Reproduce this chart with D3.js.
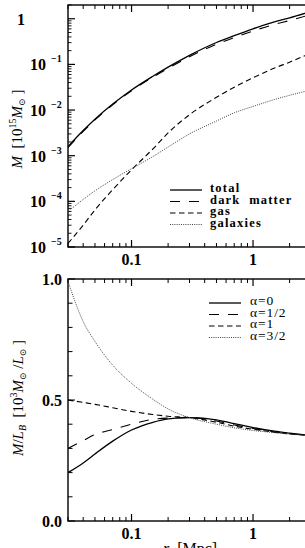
<!DOCTYPE html>
<html>
<head>
<style>
body { margin: 0; background: #fff; }
svg { display: block; }
.tick-label { font-family: 'Liberation Serif', 'DejaVu Serif', serif; font-weight: bold; font-size: 16px; fill: #000; }
.axis-title { font-family: 'Liberation Serif', 'DejaVu Serif', serif; font-size: 15px; fill: #000; }
.legend-text { font-family: 'Liberation Serif', 'DejaVu Serif', serif; font-weight: bold; font-size: 12.5px; letter-spacing: 1.2px; white-space: pre; fill: #000; }
.legend-alpha { font-family: 'Liberation Serif', 'DejaVu Serif', serif; font-size: 13.5px; letter-spacing: 0.9px; fill: #000; }
</style>
</head>
<body>
<svg></svg>
<script src="https://d3js.org/d3.v7.min.js"></script>
<script>

// radius grid shared by both panels [Mpc]
const radius = [0.03, 0.04, 0.05, 0.07, 0.1, 0.15, 0.2, 0.3, 0.5, 0.7, 1, 1.5, 2, 3];

// top panel: enclosed mass [10^15 Msun]
const massTotal = [1.58e-3, 3.55e-3, 6.3e-3, 0.0135, 0.0275, 0.055, 0.087, 0.158, 0.302, 0.427, 0.603, 0.851, 1.047, 1.445];
const massDark = [1.51e-3, 3.41e-3, 6.07e-3, 0.013, 0.0265, 0.0526, 0.082, 0.147, 0.277, 0.386, 0.54, 0.751, 0.914, 1.24];
const massGas = [1.2e-5, 3.0e-5, 6.5e-5, 1.8e-4, 4.9e-4, 1.41e-3, 3.16e-3, 7.9e-3, 0.019, 0.0316, 0.051, 0.083, 0.112, 0.178];
const massGalaxies = [6.0e-5, 1.1e-4, 1.7e-4, 3.0e-4, 5.2e-4, 9.6e-4, 1.55e-3, 3.0e-3, 5.75e-3, 8.7e-3, 0.012, 0.017, 0.021, 0.0275];
const massNames = ['total', 'dark  matter', 'gas', 'galaxies'];

// bottom panel: M/L_B [10^3 Msun/Lsun]
const mlAlpha0 = [0.20, 0.24, 0.277, 0.33, 0.376, 0.408, 0.422, 0.427, 0.418, 0.402, 0.386, 0.371, 0.363, 0.353];
const mlAlphaHalf = [0.30, 0.332, 0.357, 0.378, 0.40, 0.42, 0.425, 0.427, 0.413, 0.397, 0.382, 0.368, 0.361, 0.353];
const mlAlpha1 = [0.50, 0.49, 0.482, 0.468, 0.453, 0.44, 0.433, 0.427, 0.408, 0.392, 0.379, 0.367, 0.36, 0.353];
const mlAlpha3Half = [0.99, 0.824, 0.742, 0.644, 0.569, 0.503, 0.463, 0.427, 0.40, 0.385, 0.374, 0.365, 0.359, 0.352];
const alphaNames = ['\u03b1=0', '\u03b1=1/2', '\u03b1=1', '\u03b1=3/2'];

const xTickLabels = [0.1, 1];
const massTickPowers = [0, -1, -2, -3, -4, -5];
const mlTickLabels = ['0.0', '0.5', '1.0'];

// line styles: solid, long dash, short dash, dotted
const styles = [
    {dash: null, width: 1.3, color: '#000'},
    {dash: '10,9', width: 1.1, color: '#000'},
    {dash: '5.5,3.5', width: 1.1, color: '#000'},
    {dash: '1,1.2', width: 1, color: '#444'},
];

const width = 305;
const height = 548;

const svg = d3.select('svg')
    .attr('width', width)
    .attr('height', height);

const x = d3.scaleLog()
    .domain([0.03, 3])
    .range([68, 311]);

const yMass = d3.scaleLog()
    .domain([1e-5, 2])
    .range([247, 5]);

const yML = d3.scaleLinear()
    .domain([0, 1])
    .range([521, 279]);

const xMinor = x.ticks().filter(d => xTickLabels.indexOf(d) < 0);

function drawFrame(g, y, top, bottom) {
    g.append('rect')
        .attr('x', x.range()[0])
        .attr('y', top)
        .attr('width', x.range()[1] - x.range()[0])
        .attr('height', bottom - top)
        .attr('fill', 'none')
        .attr('stroke', '#000')
        .attr('stroke-width', 1.4);

    // x ticks, pointing inward on bottom and top
    [[bottom, -1], [top, 1]].forEach(([yy, dir]) => {
        g.selectAll(null).data(xMinor).enter().append('line')
            .attr('x1', d => x(d)).attr('x2', d => x(d))
            .attr('y1', yy).attr('y2', yy + dir * 4)
            .attr('stroke', '#000').attr('stroke-width', 1);
        g.selectAll(null).data(xTickLabels).enter().append('line')
            .attr('x1', d => x(d)).attr('x2', d => x(d))
            .attr('y1', yy).attr('y2', yy + dir * 7)
            .attr('stroke', '#000').attr('stroke-width', 1.2);
    });

    g.selectAll(null).data(xTickLabels).enter().append('text')
        .attr('class', 'tick-label')
        .attr('x', d => x(d))
        .attr('y', bottom + 18)
        .attr('text-anchor', 'middle')
        .text(d => d);
}

function addLines(g, series, y, clipId) {
    const line = d3.line()
        .x((d, i) => x(radius[i]))
        .y(d => y(d))
        .curve(d3.curveMonotoneX);

    series.forEach((s, i) => {
        g.append('path')
            .datum(s)
            .attr('clip-path', `url(#${clipId})`)
            .attr('fill', 'none')
            .attr('stroke', styles[i].color)
            .attr('stroke-width', styles[i].width)
            .attr('stroke-dasharray', styles[i].dash)
            .attr('d', line);
    });
}

function addLegend(g, names, x0, x1, tx, baselines, cls) {
    names.forEach((name, i) => {
        g.append('line')
            .attr('x1', x0).attr('x2', x1)
            .attr('y1', baselines[i] - 2).attr('y2', baselines[i] - 2)
            .attr('fill', 'none')
            .attr('stroke', styles[i].color)
            .attr('stroke-width', styles[i].width)
            .attr('stroke-dasharray', styles[i].dash);
        g.append('text')
            .attr('class', cls)
            .attr('x', tx)
            .attr('y', baselines[i])
            .text(name);
    });
}

const defs = svg.append('defs');
defs.append('clipPath').attr('id', 'clip-mass')
    .append('rect').attr('x', 68).attr('y', 5).attr('width', 243).attr('height', 242);
defs.append('clipPath').attr('id', 'clip-ml')
    .append('rect').attr('x', 68).attr('y', 279).attr('width', 243).attr('height', 242);

// ---- top panel ----
const massPanel = svg.append('g');
drawFrame(massPanel, yMass, 5, 247);

// log y ticks
const massMinor = [];
massTickPowers.forEach(p => {
    for (let k = 2; k <= 9; k++) {
        const v = k * Math.pow(10, p);
        if (v <= 2) massMinor.push(v);
    }
});
massPanel.selectAll(null).data(massMinor).enter().append('line')
    .attr('x1', 68).attr('x2', 71.5)
    .attr('y1', d => yMass(d)).attr('y2', d => yMass(d))
    .attr('stroke', '#000').attr('stroke-width', 0.9);
massPanel.selectAll(null).data(massTickPowers).enter().append('line')
    .attr('x1', 68).attr('x2', 75)
    .attr('y1', d => yMass(Math.pow(10, d))).attr('y2', d => yMass(Math.pow(10, d)))
    .attr('stroke', '#000').attr('stroke-width', 1.2);

massTickPowers.forEach(p => {
    const yy = yMass(Math.pow(10, p)) + 6;
    if (p === 0) {
        massPanel.append('text').attr('class', 'tick-label')
            .attr('x', 25).attr('y', yy).attr('text-anchor', 'end').text('1');
    } else {
        const t = massPanel.append('text').attr('class', 'tick-label')
            .attr('x', 30).attr('y', yy);
        t.append('tspan').text('10');
        t.append('tspan').attr('dx', 5).attr('dy', -8)
            .style('font-size', '10px').text('\u2212' + (-p));
    }
});

addLines(massPanel, [massTotal, massDark, massGas, massGalaxies], yMass, 'clip-mass');
addLegend(massPanel, massNames, 170, 202, 210, [192, 203.5, 215, 226.5], 'legend-text');

const massTitle = massPanel.append('text')
    .attr('class', 'axis-title')
    .attr('transform', 'translate(22,129) rotate(-90)')
    .attr('text-anchor', 'middle')
    .style('white-space', 'pre');
massTitle.append('tspan').style('font-style', 'italic').text('M');
massTitle.append('tspan').text('  [10');
massTitle.append('tspan').attr('dy', -6).style('font-size', '10px').text('15');
massTitle.append('tspan').attr('dy', 6).style('font-style', 'italic').text('M');
massTitle.append('tspan').attr('dy', 3).style('font-size', '9px').text('\u2299');
massTitle.append('tspan').attr('dy', -3).text(' ]');

// ---- bottom panel ----
const mlPanel = svg.append('g');
drawFrame(mlPanel, yML, 279, 521);

const mlTicks = d3.range(0, 11).map(d => d / 10);
mlPanel.selectAll(null).data(mlTicks).enter().append('line')
    .attr('x1', 68).attr('x2', d => (d * 10) % 5 === 0 ? 75 : 72.5)
    .attr('y1', d => yML(d)).attr('y2', d => yML(d))
    .attr('stroke', '#000').attr('stroke-width', 1);

mlPanel.selectAll(null).data(mlTickLabels).enter().append('text')
    .attr('class', 'tick-label')
    .attr('x', 62)
    .attr('y', d => yML(+d) + 6)
    .attr('text-anchor', 'end')
    .text(d => d);

addLines(mlPanel, [mlAlpha0, mlAlphaHalf, mlAlpha1, mlAlpha3Half], yML, 'clip-ml');
addLegend(mlPanel, alphaNames, 209, 241, 250, [305, 316.5, 328, 339.5], 'legend-alpha');

const mlTitle = mlPanel.append('text')
    .attr('class', 'axis-title')
    .attr('transform', 'translate(23,398) rotate(-90)')
    .attr('text-anchor', 'middle')
    .style('white-space', 'pre');
mlTitle.append('tspan').style('font-style', 'italic').text('M');
mlTitle.append('tspan').text('/');
mlTitle.append('tspan').style('font-style', 'italic').text('L');
mlTitle.append('tspan').attr('dy', 3).style('font-size', '10px').style('font-style', 'italic').text('B');
mlTitle.append('tspan').attr('dy', -3).text('  [10');
mlTitle.append('tspan').attr('dy', -6).style('font-size', '10px').text('3');
mlTitle.append('tspan').attr('dy', 6).style('font-style', 'italic').text('M');
mlTitle.append('tspan').attr('dy', 3).style('font-size', '9px').text('\u2299');
mlTitle.append('tspan').attr('dy', -3).text(' /');
mlTitle.append('tspan').style('font-style', 'italic').text('L');
mlTitle.append('tspan').attr('dy', 3).style('font-size', '9px').text('\u2299');
mlTitle.append('tspan').attr('dy', -3).text(' ]');

// x title sits at the lower edge, partly cut off as in the original figure
const xTitle = mlPanel.append('text')
    .attr('class', 'axis-title')
    .attr('x', 190)
    .attr('y', 554)
    .attr('text-anchor', 'middle')
    .style('font-size', '16px')
    .style('white-space', 'pre');
xTitle.append('tspan').style('font-style', 'italic').text('r');
xTitle.append('tspan').text('  [Mpc]');

</script>
</body>
</html>
